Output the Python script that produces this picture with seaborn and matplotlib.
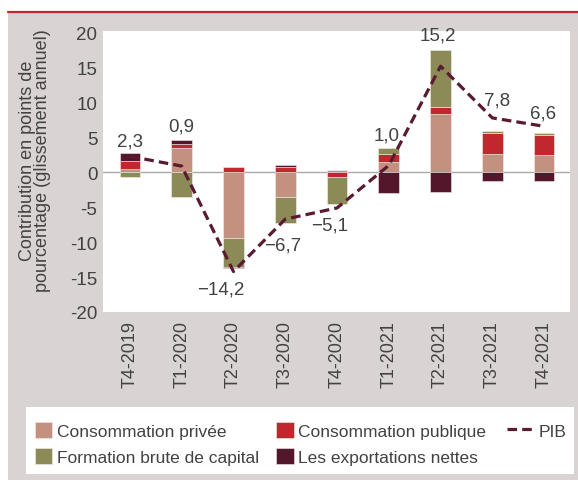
import numpy as np
import matplotlib
matplotlib.use("Agg")
import matplotlib.pyplot as plt
import matplotlib.patches as mpatches
from matplotlib.lines import Line2D
import seaborn as sns

# Données
trimestres = ['T4-2019', 'T1-2020', 'T2-2020', 'T3-2020', 'T4-2020',
              'T1-2021', 'T2-2021', 'T3-2021', 'T4-2021']
conso_privee = [0.5, 3.5, -9.4, -3.5, 0.3, 1.5, 8.3, 2.7, 2.5]
conso_publique = [1.2, 0.6, 0.7, 0.7, -0.6, 1.2, 1.0, 3.0, 2.9]
formation_capital = [-0.6, -3.5, -4.1, -3.8, -4.0, 0.8, 8.3, 0.2, 0.2]
exportations_nettes = [1.1, 0.6, -0.2, 0.3, 0.0, -2.9, -2.8, -1.3, -1.3]
pib = [2.3, 0.9, -14.2, -6.7, -5.1, 1.0, 15.2, 7.8, 6.6]
yticks = [-20, -15, -10, -5, 0, 5, 10, 15, 20]

# Décalage des étiquettes du PIB (en pixels, style seulement)
decalages = [(0, 15), (0, 40), (-13, -17), (-3, -26), (-7, -17),
             (-2, 30), (-3, 31), (5, 18), (-1, 13)]

sns.set_theme(style="white")
plt.rcParams['font.family'] = ['Liberation Sans', 'DejaVu Sans']
plt.rcParams['axes.unicode_minus'] = False

GRIS = '#d9d3d3'
TEXTE = '#424242'
couleurs = {
    'Consommation privée': '#c4907f',
    'Consommation publique': '#c1272d',
    'Formation brute de capital': '#8c8a57',
    'Les exportations nettes': '#53162a',
}
COULEUR_PIB = '#5a1a30'

W, H = 578, 481
fig = plt.figure(figsize=(W / 100, H / 100), dpi=100)
fig.patch.set_facecolor('white')

# fond gris + filet rouge en haut
fig.patches.append(mpatches.Rectangle((8 / W, 0), 1, 1 - 13 / H, transform=fig.transFigure,
                                      facecolor=GRIS, edgecolor='none', zorder=-10))
fig.add_artist(Line2D([8 / W, 1], [1 - 12.5 / H, 1 - 12.5 / H], transform=fig.transFigure,
                      color='#c1272d', lw=1.6))
# cadre blanc de la légende
fig.patches.append(mpatches.Rectangle((26 / W, 1 - 475 / H), (574 - 26) / W, (475 - 408) / H,
                                      transform=fig.transFigure, facecolor='white',
                                      edgecolor='none', zorder=-5))

ax = fig.add_axes([103 / W, 1 - 313 / H, (570 - 103) / W, (313 - 32) / H])
ax.set_facecolor('white')

x = np.arange(len(trimestres))
haut = np.zeros(len(x))
bas = np.zeros(len(x))
for nom, valeurs in [('Consommation privée', conso_privee),
                     ('Consommation publique', conso_publique),
                     ('Formation brute de capital', formation_capital),
                     ('Les exportations nettes', exportations_nettes)]:
    v = np.array(valeurs)
    base = np.where(v >= 0, haut, bas)
    ax.bar(x, v, bottom=base, width=0.4, color=couleurs[nom], label=nom,
           edgecolor='#f3eeee', linewidth=0.4, zorder=3)
    haut = np.where(v >= 0, haut + v, haut)
    bas = np.where(v < 0, bas + v, bas)

ax.axhline(0, color='#a9a9a9', lw=1, zorder=2)

sns.lineplot(x=x, y=pib, ax=ax, color=COULEUR_PIB, lw=2.3, dashes=False,
             label='PIB', zorder=5, legend=False)
ligne = ax.lines[-1]
ligne.set_dashes((3, 1.6))

for i, (val, (dx, dy)) in enumerate(zip(pib, decalages)):
    txt = f"{val:.1f}".replace('.', ',').replace('-', '\u2212')
    ax.annotate(txt, (x[i], val), xytext=(dx * 0.72, dy * 0.72), textcoords='offset points',
                ha='center', va='center', fontsize=13.5, color=TEXTE)

ax.set_xlim(-0.52, 8.5)
ax.set_ylim(-20, 20.25)
ax.set_yticks(yticks)
ax.set_yticklabels([str(t) for t in yticks])
ax.set_xticks(x)
ax.set_xticklabels(trimestres, rotation=90)
ax.tick_params(axis='y', length=0, pad=4, labelsize=13.5, labelcolor=TEXTE)
ax.tick_params(axis='x', length=0, pad=6, labelsize=13, labelcolor=TEXTE)
for s in ax.spines.values():
    s.set_visible(False)

fig.text(35 / W, 1 - 161 / H, "Contribution en points de\npourcentage (glissement annuel)",
         rotation=90, ha='center', va='center', fontsize=13, color=TEXTE,
         linespacing=0.9, multialignment='center')

# légende : les quatre composantes sur deux colonnes, puis le PIB à part
handles, labels = ax.get_legend_handles_labels()
hmap = dict(zip(labels, handles))
ordre = ['Consommation privée', 'Formation brute de capital',
         'Consommation publique', 'Les exportations nettes']
leg1 = fig.legend([hmap[k] for k in ordre], ordre, ncol=2, loc='upper left',
                  bbox_to_anchor=(35 / W, 1 - 423 / H), frameon=False, fontsize=12.5,
                  handlelength=1.0, handleheight=1.0, handletextpad=0.25,
                  labelspacing=0.55, columnspacing=1.0, borderpad=0, borderaxespad=0)
h_pib = Line2D([], [], color=COULEUR_PIB, lw=2.3, dashes=(3, 1.6))
leg2 = fig.legend([h_pib], ['PIB'], loc='upper left',
                  bbox_to_anchor=(507 / W, 1 - 423 / H), frameon=False, fontsize=12.5,
                  handlelength=1.5, handleheight=1.0, handletextpad=0.35,
                  borderpad=0, borderaxespad=0)
for t in leg1.get_texts() + leg2.get_texts():
    t.set_color(TEXTE)

fig.savefig('out.png', dpi=100)
